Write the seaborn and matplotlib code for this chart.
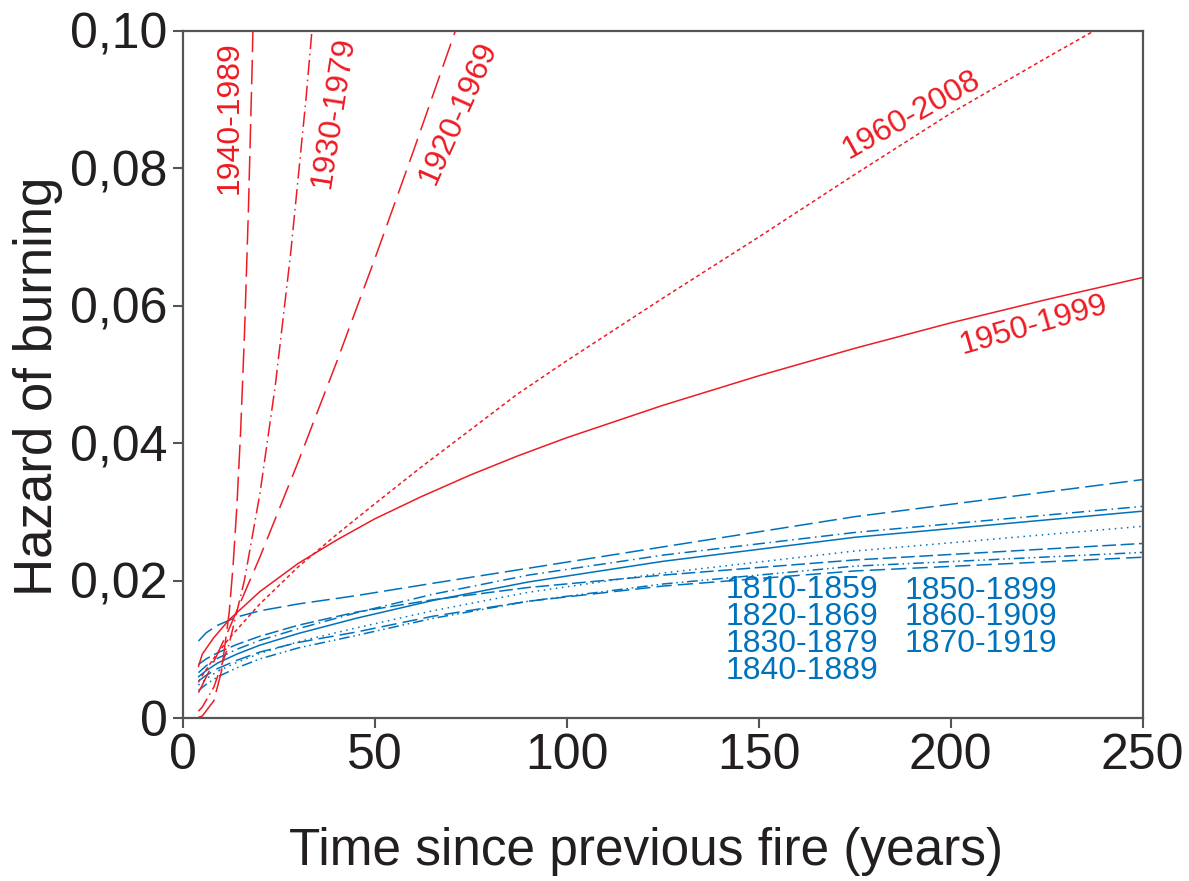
import numpy as np
import pandas as pd
import matplotlib
matplotlib.use("Agg")
import matplotlib.pyplot as plt
import seaborn as sns

# Hazard curves
# blue (older periods)
x_blue = [4, 6, 9, 14, 20, 30, 45, 65, 90, 125, 175, 250]
h_1810 = [0.0112, 0.0124, 0.0135, 0.0147, 0.0156, 0.0166, 0.0178, 0.0196, 0.0218, 0.0249, 0.0293, 0.0347]
h_1820 = [0.0066, 0.0076, 0.0087, 0.0100, 0.0113, 0.0130, 0.0153, 0.0180, 0.0208, 0.0237, 0.0270, 0.0308]
h_1830 = [0.0060, 0.0069, 0.0080, 0.0093, 0.0106, 0.0123, 0.0145, 0.0171, 0.0198, 0.0228, 0.0263, 0.0301]
h_1840 = [0.0048, 0.0057, 0.0068, 0.0081, 0.0094, 0.0111, 0.0131, 0.0156, 0.0183, 0.0211, 0.0243, 0.0279]
h_1850 = [0.0078, 0.0086, 0.0095, 0.0107, 0.0119, 0.0135, 0.0154, 0.0172, 0.0190, 0.0208, 0.0230, 0.0254]
h_1860 = [0.0040, 0.0049, 0.0060, 0.0073, 0.0086, 0.0102, 0.0120, 0.0145, 0.0170, 0.0195, 0.0221, 0.0241]
h_1870 = [0.0054, 0.0062, 0.0072, 0.0084, 0.0096, 0.0110, 0.0125, 0.0148, 0.0170, 0.0192, 0.0214, 0.0234]

# red (recent periods)
x_1940 = [4, 5, 8, 10, 12, 13, 14, 15, 16, 17, 18, 19]
h_1940 = [0.0001, 0.0003, 0.0025, 0.0068, 0.0153, 0.0220, 0.0307, 0.0419, 0.0560, 0.0736, 0.0951, 0.1214]
x_1930 = [4, 5, 8, 12, 16, 20, 24, 28, 32, 35]
h_1930 = [0.0010, 0.0016, 0.0045, 0.0108, 0.0201, 0.0326, 0.0483, 0.0675, 0.0900, 0.1092]
x_1920 = [4, 5, 8, 12, 20, 30, 40, 50, 60, 75]
h_1920 = [0.0037, 0.0048, 0.0082, 0.0130, 0.0234, 0.0373, 0.0518, 0.0669, 0.0825, 0.1065]
x_red = [4, 5, 8, 12, 20, 30, 40, 50, 62, 75, 87, 100, 125, 150, 175, 200, 225, 250]
h_1950 = [0.0075, 0.0093, 0.0117, 0.0143, 0.0184, 0.0225, 0.0259, 0.0290, 0.0322, 0.0354, 0.0381,
          0.0408, 0.0455, 0.0498, 0.0538, 0.0575, 0.0609, 0.0641]
h_1960 = [0.0052, 0.0062, 0.0087, 0.0116, 0.0166, 0.0220, 0.0267, 0.0312, 0.0365, 0.0420, 0.0471,
          0.0520, 0.0611, 0.0700, 0.0791, 0.0880, 0.0961, 0.1040]

RED = "#ED1C24"
BLUE = "#0072BC"

series = [
    ("1810-1859", x_blue, h_1810, BLUE, (12, 4)),
    ("1820-1869", x_blue, h_1820, BLUE, (8, 3, 1, 3)),
    ("1830-1879", x_blue, h_1830, BLUE, ""),
    ("1840-1889", x_blue, h_1840, BLUE, (1, 3)),
    ("1850-1899", x_blue, h_1850, BLUE, (9, 3)),
    ("1860-1909", x_blue, h_1860, BLUE, (7, 2.5, 1, 2.5, 1, 2.5)),
    ("1870-1919", x_blue, h_1870, BLUE, (10, 4)),
    ("1920-1969", x_1920, h_1920, RED, (16, 6)),
    ("1930-1979", x_1930, h_1930, RED, (10, 3, 1, 3)),
    ("1940-1989", x_1940, h_1940, RED, (16, 5)),
    ("1950-1999", x_red, h_1950, RED, ""),
    ("1960-2008", x_red, h_1960, RED, (2.5, 2)),
]

df = pd.concat([pd.DataFrame({"t": x, "h": y, "period": name}) for name, x, y, _, _ in series],
               ignore_index=True)
palette = {name: c for name, _, _, c, _ in series}
dashes = {name: d for name, _, _, _, d in series}

sns.set_style("white")
plt.rcParams["font.family"] = ["Liberation Sans", "DejaVu Sans"]

fig, ax = plt.subplots(figsize=(11.89, 8.81), dpi=100)
fig.subplots_adjust(left=0.154, right=0.961, top=0.965, bottom=0.185)

sns.lineplot(data=df, x="t", y="h", hue="period", style="period",
             palette=palette, dashes=dashes, sort=False, estimator=None,
             linewidth=1.1, legend=False, ax=ax)

ax.set_xlim(0, 250)
ax.set_ylim(0, 0.10)
ax.set_xticks([0, 50, 100, 150, 200, 250])
yt = [0, 0.02, 0.04, 0.06, 0.08, 0.10]
ax.set_yticks(yt)
ax.set_yticklabels(["0" if v == 0 else f"{v:.2f}".replace(".", ",") for v in yt])

ax.tick_params(axis="both", which="major", bottom=True, left=True, direction="out",
               length=7, width=1.5, color="#555555", labelsize=36, labelcolor="#231F20", pad=4)
for sp in ax.spines.values():
    sp.set_color("#555555")
    sp.set_linewidth(1.6)

ax.set_xlabel("Time since previous fire (years)", fontsize=37, color="#231F20")
ax.set_ylabel("Hazard of burning", fontsize=38, color="#231F20")
ax.xaxis.set_label_coords(0.482, -0.158)
ax.yaxis.set_label_coords(-0.125, 0.483)

# red labels on the curves
lab_kw = dict(fontsize=23, color=RED, ha="center", va="center", rotation_mode="anchor")
ax.text(12.0, 0.0873, "1940-1989", rotation=90, **lab_kw)
ax.text(39.1, 0.0881, "1930-1979", rotation=81, **lab_kw)
ax.text(71.6, 0.0881, "1920-1969", rotation=66, **lab_kw)
ax.text(189.8, 0.0878, "1960-2008", rotation=29, **lab_kw)
ax.text(221.6, 0.0571, "1950-1999", rotation=16, **lab_kw)

# blue labels as two blocks
blue_left = ["1810-1859", "1820-1869", "1830-1879", "1840-1889"]
blue_right = ["1850-1899", "1860-1909", "1870-1919"]
ax.text(141.4, 0.01274, "\n".join(blue_left), fontsize=23, color=BLUE,
        ha="left", va="center", linespacing=0.86)
ax.text(188.0, 0.01463, "\n".join(blue_right), fontsize=23, color=BLUE,
        ha="left", va="center", linespacing=0.86)

fig.savefig("out.png", dpi=100)
